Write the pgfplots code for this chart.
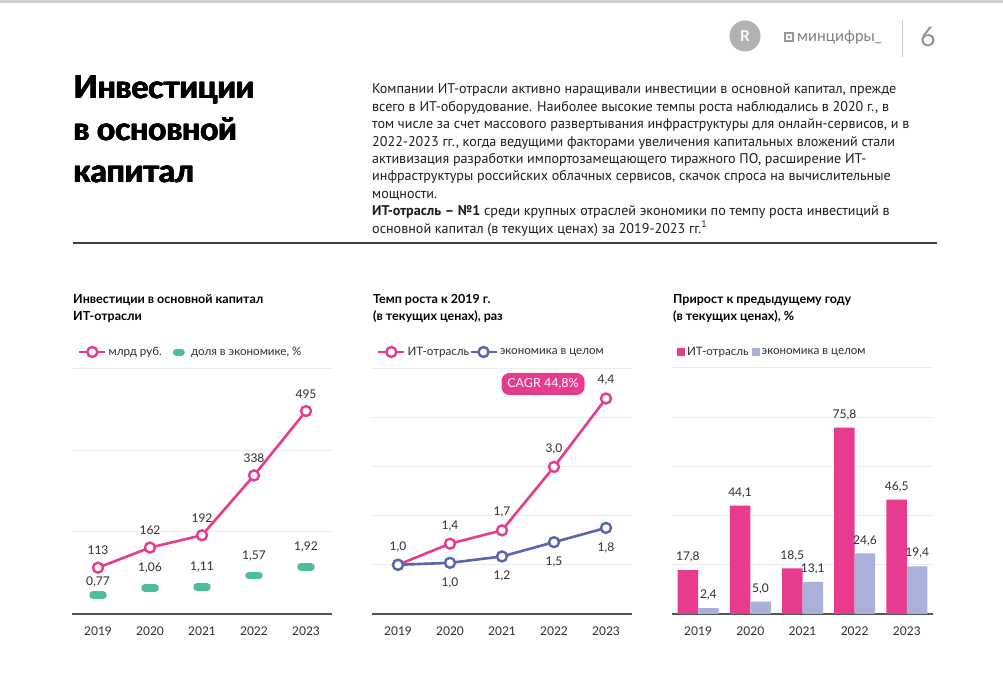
\documentclass[border=0pt]{standalone}
\usepackage{fontspec}
\usepackage{pgfplots}
\pgfplotsset{compat=1.18}
\setmainfont{Lato}
\newfontfamily\ptsans{PT Sans}
\newcommand\fs[1]{\fontsize{#1}{#1}\selectfont}
\definecolor{pinkc}{HTML}{E63B8F}
\definecolor{greenc}{HTML}{4DBE9A}
\definecolor{bluec}{HTML}{5A65B0}
\definecolor{lavc}{HTML}{A9B0D9}
\definecolor{gridc}{HTML}{EDEDED}
\definecolor{axisc}{HTML}{555555}
\definecolor{labc}{HTML}{2E2E2E}
\definecolor{txtc}{HTML}{1E1E1E}
\pgfplotsset{
  base/.style={
    scale only axis, width=260pt, height=246pt, xmin=-0.5, xmax=4.5, ymin=0,
    axis x line=bottom, axis y line=left, axis line style={-},
    y axis line style={draw=none}, x axis line style={draw=axisc, line width=1.4pt},
    xtick={0,1,2,3,4}, xticklabels={2019,2020,2021,2022,2023},
    major tick length=0pt, yticklabels={}, ymajorgrids,
    grid style={draw=gridc, line width=1pt},
    xticklabel style={font=\fs{12}, text=labc, anchor=center, yshift=-17pt},
    clip=false,
    legend style={draw=none, fill=none, inner sep=0pt, outer sep=0pt, font=\fs{11.6}, text=labc,
      legend columns=-1, anchor=west, at={(0,1)}, yshift=16pt},
    legend cell align=left,
  },
  lab/.style={nodes near coords, point meta=explicit symbolic, nodes near coords align={center},
    every node near coord/.append style={font=\fs{12}, text=labc, yshift=#1}},
  linelegend/.style={legend image code/.code={\draw[mark repeat=2,mark phase=2,##1] plot coordinates {(0pt,0pt) (13pt,0pt) (26pt,0pt)};}},
  sqlegend/.style={legend image code/.code={\fill[##1,draw=none] (0pt,-4pt) rectangle (8pt,4pt);}},
  pinkline/.style={pinkc, line width=2.6pt, mark=*, mark size=5pt, mark options={fill=white, draw=pinkc, line width=2.4pt}},
  blueline/.style={bluec, line width=2.6pt, mark=*, mark size=5pt, mark options={fill=white, draw=bluec, line width=2.4pt}},
  pill/.style={only marks, mark=-, mark size=5pt, mark options={draw=greenc, line width=7.5pt, line cap=round}},
}
\newcommand\heavytext[3]{%
  \foreach \dx/\dy in {0/0, 0.5/0, 1.0/0, 0/0.4, 0.5/0.4, 1.0/0.4}{%
    \node[anchor=base west, inner sep=0, text=black, font=\bfseries\fs{31.5}] at (#1+\dx,#2+\dy) {#3};}}
\begin{document}
\begin{tikzpicture}[x=1pt,y=1pt]
\useasboundingbox (0,0) rectangle (1003,674);
\fill[white] (0,0) rectangle (1003,674);
\fill[black!18] (0,671) rectangle (1003,674);
% header right
\fill[black!30] (745,638) circle (15.5);
\node[white, font=\bfseries\fs{15}] at (745,638) {R};
\draw[black!40, line width=1.3pt] (785,633) rectangle (793,641);
\fill[black!40] (789,637) circle (1.5);
\node[anchor=west, text=black!50, font=\fs{15.5}, inner sep=0] at (797,637) {минцифры\_};
\draw[black!20, line width=0.9pt] (902,654) -- (902,617);
\node[text=black!42, font=\fs{27}, inner sep=0] at (928,637) {6};
% title
\heavytext{73}{575}{Инвестиции}
\heavytext{73}{533}{в основной}
\heavytext{73}{491}{капитал}
% paragraph
\begin{scope}[every node/.style={anchor=base west, inner sep=0, text=txtc, font=\ptsans\fs{14.1}}]
\node at (372,580.0) {Компании ИТ-отрасли активно наращивали инвестиции в основной капитал, прежде};
\node at (372,562.6) {всего в ИТ-оборудование. Наиболее высокие темпы роста наблюдались в 2020 г., в};
\node at (372,545.2) {том числе за счет массового развертывания инфраструктуры для онлайн-сервисов, и в};
\node at (372,527.8) {2022-2023 гг., когда ведущими факторами увеличения капитальных вложений стали};
\node at (372,510.4) {активизация разработки импортозамещающего тиражного ПО, расширение ИТ-};
\node at (372,493.0) {инфраструктуры российских облачных сервисов, скачок спроса на вычислительные};
\node at (372,475.6) {мощности.};
\node at (372,458.2) {\textbf{ИТ-отрасль – №1} среди крупных отраслей экономики по темпу роста инвестиций в};
\node at (372,440.8) {основной капитал (в текущих ценах) за 2019-2023 гг.\textsuperscript{1}};
\end{scope}
\draw[black!75, line width=1.2pt] (73,431) -- (937,431);
% chart titles
\begin{scope}[every node/.style={anchor=base west, inner sep=0, text=black, font=\bfseries\fs{12.5}}]
\node at (73,370) {Инвестиции в основной капитал};
\node at (73,353) {ИТ-отрасли};
\node at (373,370) {Темп роста к 2019 г.};
\node at (373,353) {(в текущих ценах), раз};
\node at (673,370) {Прирост к предыдущему году};
\node at (673,353) {(в текущих ценах), \%};
\end{scope}
% ---------- chart 1 ----------
\begin{axis}[base, at={(72pt,60pt)}, anchor=south west, ymax=600, ytick={200,400,600},
  legend style={xshift=6pt, /tikz/every even column/.append style={column sep=9pt}}]
\addplot[pinkline, linelegend, lab=17pt] coordinates {(0,113)[113] (1,162)[162] (2,192)[192] (3,338)[338] (4,495)[495]};
\addlegendentry{млрд руб.}
\addlegendimage{legend image code/.code={\draw[greenc, line width=7pt, line cap=round] (3.5pt,0pt) -- (8.5pt,0pt); \path (16pt,0pt);}}
\addlegendentry{доля в экономике, \%}
\end{axis}
\begin{axis}[at={(72pt,60pt)}, anchor=south west, scale only axis, width=260pt, height=246pt,
  xmin=-0.5, xmax=4.5, ymin=0, ymax=10.05, hide axis, clip=false]
\addplot[pill, lab=13pt] coordinates {(0,0.77)[{0,77}]};
\addplot[pill, lab=20pt] coordinates {(1,1.06)[{1,06}] (2,1.11)[{1,11}] (3,1.57)[{1,57}] (4,1.92)[{1,92}]};
\end{axis}
% ---------- chart 2 ----------
\begin{axis}[base, at={(372pt,60pt)}, anchor=south west, ymax=5, ytick={1,2,3,4,5},
  legend style={xshift=5pt, /tikz/every even column/.append style={column sep=-2pt}}]
\addplot[pinkline, linelegend, lab=18pt] coordinates {(0,1.0)[{1,0}] (1,1.43)[{1,4}] (2,1.70)[{1,7}] (3,2.99)[{3,0}] (4,4.38)[{4,4}]};
\addlegendentry{ИТ-отрасль}
\addplot[blueline, linelegend, lab=-20pt] coordinates {(0,1.0)[{}] (1,1.04)[{1,0}] (2,1.17)[{1,2}] (3,1.46)[{1,5}] (4,1.75)[{1,8}]};
\addlegendentry{экономика в целом}
\end{axis}
\node[fill=pinkc, text=white, rounded corners=8pt, minimum width=83pt, minimum height=22pt, inner sep=0, font=\fs{12.5}] at (543,290) {CAGR 44,8\%};
% ---------- chart 3 ----------
\begin{axis}[base, at={(672pt,60pt)}, anchor=south west, width=261pt, ymax=100, ytick={20,40,60,80,100},
  legend style={xshift=5pt, /tikz/every even column/.append style={column sep=1pt}}]
\addplot[ybar, bar width=20.5pt, bar shift=-10.25pt, fill=pinkc, draw=none, sqlegend, lab=13pt,
  every node near coord/.append style={xshift=-10.25pt}]
  coordinates {(0,17.8)[{17,8}] (1,44.1)[{44,1}] (2,18.5)[{18,5}] (3,75.8)[{75,8}] (4,46.5)[{46,5}]};
\addlegendentry{ИТ-отрасль}
\addplot[ybar, bar width=20.5pt, bar shift=10.25pt, fill=lavc, draw=none, sqlegend, lab=13pt,
  every node near coord/.append style={xshift=10.25pt}]
  coordinates {(0,2.4)[{2,4}] (1,5.0)[{5,0}] (2,13.1)[{13,1}] (3,24.6)[{24,6}] (4,19.4)[{19,4}]};
\addlegendentry{экономика в целом}
\end{axis}
\end{tikzpicture}
\end{document}
